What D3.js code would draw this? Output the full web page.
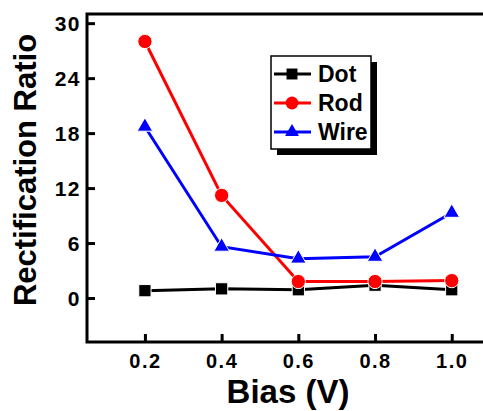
<!DOCTYPE html>
<html>
<head>
<meta charset="utf-8">
<script src="https://cdn.jsdelivr.net/npm/d3@7"></script>
<style>
  body { margin: 0; background: #fff; }
  svg { display: block; font-family: "Liberation Sans", Arial, sans-serif; font-weight: bold; }
</style>
</head>
<body>
<svg id="chart" width="483" height="411"></svg>
<script>
const bias = [0.2, 0.4, 0.6, 0.8, 1.0];
const dot = [0.8, 1.0, 0.9, 1.4, 0.9];
const rod = [28.0, 11.2, 1.8, 1.8, 1.9];
const wire = [18.7, 5.6, 4.3, 4.5, 9.3];
const yTicks = [0, 6, 12, 18, 24, 30];
const xTicks = [0.2, 0.4, 0.6, 0.8, 1.0];

const series = [
  { name: 'Dot', values: dot, color: '#000000', symbol: d3.symbolSquare, size: 150 },
  { name: 'Rod', values: rod, color: '#ff0000', symbol: d3.symbolCircle, size: 160 },
  { name: 'Wire', values: wire, color: '#0000ff', symbol: d3.symbolTriangle, size: 105 }
];

const svg = d3.select('#chart');
const plotL = 87, plotT = 14, plotR = 497, plotB = 342;

const x = d3.scaleLinear().domain([0.049, 1.118]).range([plotL, plotR]);
const y = d3.scaleLinear().domain([-4.8, 31]).range([plotB, plotT]);

// frame
svg.append('rect')
  .attr('x', plotL).attr('y', plotT)
  .attr('width', plotR - plotL).attr('height', plotB - plotT)
  .attr('fill', 'none').attr('stroke', '#000').attr('stroke-width', 3);

// y axis (inward ticks)
const yAxis = svg.append('g').attr('transform', `translate(${plotL},0)`)
  .call(d3.axisRight(y).tickValues(yTicks).tickSize(8).tickFormat(d3.format('d')));
yAxis.select('.domain').remove();
yAxis.selectAll('.tick line').attr('stroke-width', 3);
yAxis.selectAll('.tick text')
  .attr('x', -6).attr('text-anchor', 'end').attr('dy', '0.36em')
  .attr('font-size', 21).attr('letter-spacing', 1.5)
  .attr('font-family', 'Liberation Sans, Arial').attr('font-weight', 'bold');

// x axis (inward ticks)
const xAxis = svg.append('g').attr('transform', `translate(0,${plotB})`)
  .call(d3.axisTop(x).tickValues(xTicks).tickSize(8).tickFormat(d3.format('.1f')));
xAxis.select('.domain').remove();
xAxis.selectAll('.tick line').attr('stroke-width', 3);
xAxis.selectAll('.tick text')
  .attr('y', 26).attr('dy', 0).attr('letter-spacing', 1.5)
  .attr('font-size', 20).attr('font-family', 'Liberation Sans, Arial').attr('font-weight', 'bold');

// axis titles
svg.append('text')
  .attr('x', 288).attr('y', 403)
  .attr('text-anchor', 'middle').attr('font-size', 33)
  .text('Bias (V)');
svg.append('text')
  .attr('transform', 'translate(36,170) rotate(-90)')
  .attr('text-anchor', 'middle').attr('font-size', 31)
  .text('Rectification Ratio');

const line = d3.line().x((d, i) => x(bias[i])).y(d => y(d));

series.forEach(s => {
  svg.append('path')
    .datum(s.values)
    .attr('d', line)
    .attr('fill', 'none').attr('stroke', s.color).attr('stroke-width', 3);
  svg.selectAll(null)
    .data(s.values)
    .enter().append('path')
    .attr('transform', (d, i) => `translate(${x(bias[i])},${y(d)})`)
    .attr('d', d3.symbol().type(s.symbol).size(s.size))
    .attr('fill', s.color).attr('stroke', '#fff').attr('stroke-width', 1);
});

// legend
const lg = svg.append('g').attr('transform', 'translate(271,56)');
lg.append('rect').attr('x', 6).attr('y', 6).attr('width', 100).attr('height', 93).attr('fill', '#000');
lg.append('rect').attr('x', 0).attr('y', 0).attr('width', 100).attr('height', 93)
  .attr('fill', '#fff').attr('stroke', '#000').attr('stroke-width', 1.5);
series.forEach((s, i) => {
  const cy = 18 + i * 29;
  lg.append('line').attr('x1', 3).attr('x2', 40).attr('y1', cy).attr('y2', cy)
    .attr('stroke', s.color).attr('stroke-width', 3);
  lg.append('path').attr('transform', `translate(21,${cy})`)
    .attr('d', d3.symbol().type(s.symbol).size(s.size * 0.8))
    .attr('fill', s.color);
  lg.append('text').attr('x', 47).attr('y', cy).attr('dy', '0.36em')
    .attr('font-size', 23).text(s.name);
});
</script>
</body>
</html>
